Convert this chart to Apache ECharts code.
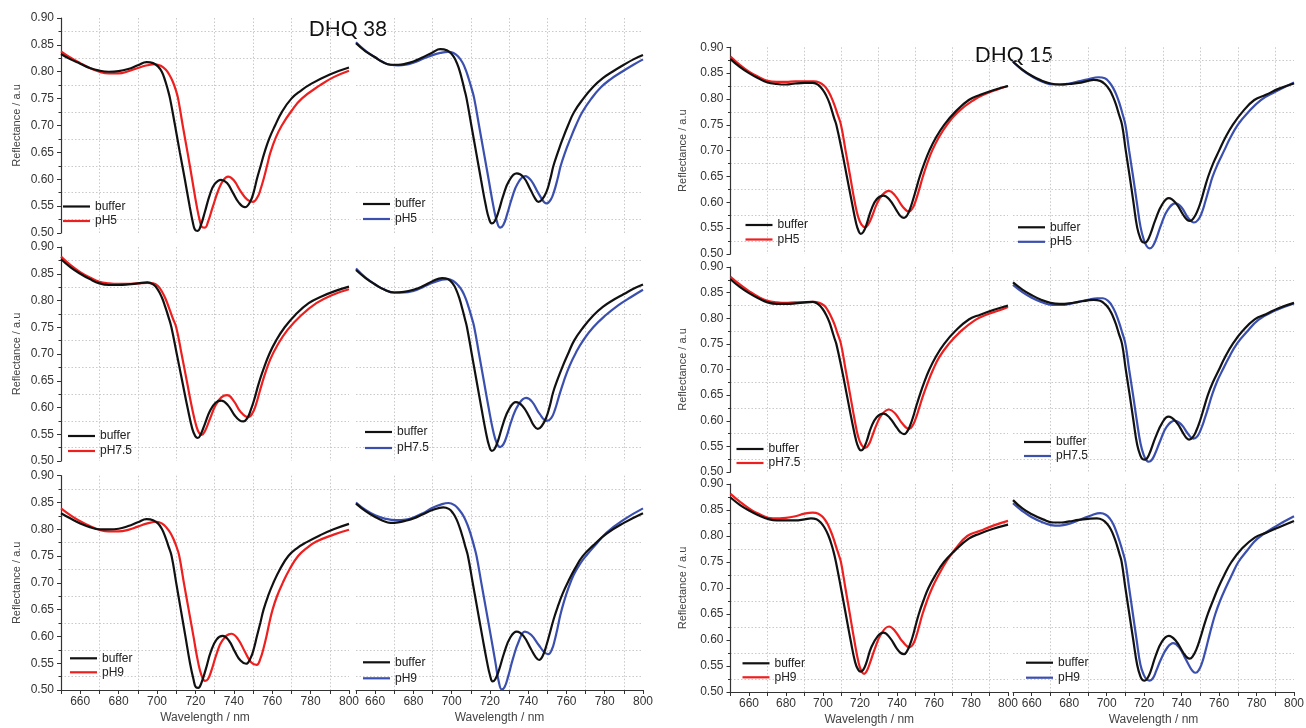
<!DOCTYPE html>
<html><head><meta charset="utf-8">
<script src="https://cdn.jsdelivr.net/npm/echarts@6/dist/echarts.min.js"></script>
<style>html,body{margin:0;padding:0;background:#fff}#c{width:1306px;height:728px}</style>
</head><body><div id="c"></div>
<script>
// ---------------- DATA: [wavelength nm, reflectance a.u] ----------------
// DHQ 38
const d38_pH5_L_buffer = [[650,.833],[655,.823],[660,.815],[665,.807],[670,.802],[675,.800],[680,.801],[685,.805],[690,.812],[694.6,.818],[698,.816],[700.5,.810],[702.5,.800],[704.2,.784],[705.6,.767],[706.8,.750],[709.4,.700],[711.9,.650],[714.5,.600],[717,.550],[718.6,.521],[719.8,.506],[721.2,.504],[722.8,.514],[725,.540],[727.5,.571],[730,.591],[733.4,.599],[736.5,.593],[739.5,.575],[742.5,.557],[745.8,.548],[748.5,.558],[750.5,.578],[752,.600],[754,.625],[756,.650],[758.5,.676],[761.5,.700],[765,.725],[770,.750],[775,.765],[780,.777],[790,.795],[800,.808]];
const d38_pH5_L_pH = [[650,.838],[655,.826],[660,.816],[665,.807],[670,.800],[675,.797],[680,.797],[685,.801],[690,.807],[695,.812],[699,.814],[702,.811],[704.5,.804],[706.5,.794],[708.3,.781],[709.8,.766],[711,.750],[713.4,.700],[715.9,.650],[718.3,.600],[720.7,.550],[722.3,.523],[723.5,.511],[725,.510],[726.5,.520],[729,.548],[732,.580],[734.5,.598],[737,.605],[740,.598],[743.5,.578],[747,.562],[750,.558],[752.5,.568],[754,.582],[755.5,.600],[757.3,.625],[759,.649],[761.8,.677],[765,.700],[770,.727],[775.4,.750],[785,.775],[792,.790],[800,.802]];
const d38_pH5_R_buffer = [[650,.853],[655,.838],[660,.827],[664,.818],[668,.813],[672,.813],[676,.815],[680,.819],[685,.827],[690,.836],[694,.842],[697.5,.840],[700,.833],[702,.822],[703.8,.806],[705.3,.787],[706.6,.768],[707.8,.750],[710.3,.700],[712.8,.650],[715.3,.600],[717.8,.552],[719.5,.527],[721,.518],[722.5,.522],[724.5,.540],[727,.570],[730,.597],[734,.611],[737.5,.604],[741,.582],[743.5,.565],[745.3,.558],[747.2,.562],[749.6,.577],[751.5,.600],[753.2,.625],[755.5,.650],[758,.675],[760.8,.700],[764,.725],[768.8,.750],[774,.772],[779,.788],[784,.800],[790,.813],[795,.823],[800,.831]];
const d38_pH5_R_pH = [[650,.855],[655,.839],[660,.827],[664,.818],[668,.813],[672,.812],[676,.813],[680,.817],[685,.824],[690,.831],[694,.835],[698,.837],[701,.835],[703.5,.828],[705.5,.818],[707.3,.804],[708.9,.787],[710.4,.769],[711.8,.750],[714.3,.700],[716.8,.650],[719.3,.600],[721.8,.550],[723.6,.522],[725.3,.510],[727,.515],[729,.535],[731.5,.565],[734.5,.592],[738.4,.606],[741.5,.598],[745.5,.573],[749.7,.555],[751.8,.562],[753.5,.577],[755.3,.600],[757,.625],[759.3,.650],[762,.675],[764.9,.700],[768.3,.725],[773,.750],[778,.771],[783,.786],[789,.800],[795,.813],[800,.823]];
const d38_pH75_L_buffer = [[650,.877],[655,.862],[660,.850],[665,.840],[670,.832],[675,.829],[680,.829],[685,.830],[690,.832],[695,.834],[698,.830],[700.5,.820],[702.5,.806],[704.3,.788],[706,.769],[707.5,.750],[710.3,.700],[713.1,.650],[715.9,.600],[718.4,.560],[720,.546],[721.3,.543],[722.8,.550],[725,.570],[727.5,.593],[730.5,.609],[733.5,.613],[737,.604],[740.5,.585],[743,.576],[745,.574],[747,.580],[748.8,.595],[750.5,.613],[753,.645],[755.5,.672],[758.5,.700],[762,.725],[766.5,.750],[772,.773],[779,.795],[786,.808],[793,.818],[800,.826]];
const d38_pH75_L_pH = [[650,.882],[655,.866],[660,.853],[665,.843],[670,.835],[675,.832],[680,.831],[685,.831],[690,.832],[695,.833],[698,.832],[700.5,.827],[702.7,.816],[704.7,.801],[706.4,.785],[708.3,.766],[710,.750],[712.8,.700],[715.5,.650],[718.2,.600],[720.5,.565],[722,.552],[723.3,.549],[725,.556],[727.5,.578],[730.5,.604],[733.5,.619],[736.5,.623],[740,.612],[743.5,.592],[747.5,.582],[749.5,.588],[751.5,.605],[753.5,.630],[756,.660],[759,.690],[762.5,.715],[768,.745],[775,.772],[783,.795],[791,.810],[800,.821]];
const d38_pH75_R_buffer = [[650,.857],[655,.842],[660,.830],[665,.820],[670,.815],[675,.816],[680,.820],[685,.827],[690,.836],[695,.842],[698,.840],[700.5,.832],[702.5,.819],[704.2,.802],[705.6,.784],[706.9,.766],[708,.750],[710.5,.700],[713,.650],[715.5,.600],[718,.552],[719.6,.528],[721,.519],[722.5,.523],[724.5,.541],[727,.571],[730,.597],[733.6,.610],[737,.603],[740.5,.583],[743,.566],[745,.560],[747,.565],[749.3,.580],[751.3,.603],[753,.628],[755.3,.652],[758,.677],[760.8,.700],[764,.725],[768.8,.750],[774,.772],[779,.788],[784,.800],[790,.812],[795,.822],[800,.830]];
const d38_pH75_R_pH = [[650,.860],[655,.843],[660,.830],[665,.820],[670,.815],[675,.815],[680,.818],[685,.825],[690,.833],[695,.839],[698,.840],[701,.836],[703.5,.828],[705.5,.818],[707.3,.804],[708.9,.787],[710.4,.769],[711.8,.750],[714.3,.700],[716.8,.650],[719.3,.600],[721.7,.556],[723.6,.533],[725.3,.526],[727,.531],[729,.549],[731.5,.578],[735,.606],[738.9,.618],[742,.611],[746,.588],[749.8,.575],[752,.580],[754,.596],[756,.620],[758.5,.648],[761.5,.677],[765,.703],[769,.727],[774,.750],[780,.771],[787,.791],[794,.807],[800,.820]];
const d38_pH9_L_buffer = [[650,.830],[655,.820],[660,.811],[665,.804],[670,.800],[675,.800],[680,.801],[685,.806],[690,.813],[694.6,.819],[698,.817],[700.5,.811],[702.5,.801],[704.4,.785],[706,.768],[707.6,.750],[710,.700],[712.4,.650],[714.8,.600],[717.2,.550],[719,.520],[720.3,.505],[721.5,.504],[723,.512],[725.5,.540],[728,.571],[731,.594],[734.2,.601],[737.5,.592],[740.5,.572],[743.5,.555],[746.4,.549],[748.8,.560],[750.5,.578],[752,.600],[753.8,.625],[755.5,.650],[757.8,.675],[760.6,.700],[764,.725],[768.4,.750],[773,.765],[778,.776],[785,.789],[792,.800],[800,.810]];
const d38_pH9_L_pH = [[650,.839],[655,.826],[660,.815],[665,.806],[670,.799],[675,.796],[680,.796],[685,.799],[690,.805],[695,.811],[699.8,.814],[702.5,.811],[705,.803],[707,.793],[708.8,.780],[710.3,.766],[711.6,.750],[714,.700],[716.5,.650],[719,.600],[721.4,.552],[723.3,.526],[725,.517],[726.5,.520],[728.5,.538],[731,.567],[734,.592],[738.7,.605],[742,.596],[746,.570],[749,.552],[751.9,.547],[754,.560],[755.5,.578],[757,.600],[758.5,.625],[760.2,.650],[762.5,.675],[765.5,.700],[769,.725],[773.5,.750],[778,.765],[783,.777],[792,.790],[800,.799]];
const d38_pH9_R_buffer = [[650,.848],[655,.834],[660,.823],[664,.816],[668,.812],[672,.813],[676,.816],[680,.820],[685,.828],[690,.836],[695.6,.841],[698.5,.838],[700.7,.830],[702.6,.818],[704.3,.802],[705.8,.785],[707.2,.767],[708.5,.750],[711,.700],[713.5,.650],[716,.600],[718.5,.552],[720,.528],[721.4,.516],[722.8,.520],[724.8,.538],[727.5,.570],[730.5,.597],[734,.609],[737.5,.601],[741.5,.576],[744,.561],[745.7,.556],[747.5,.563],[749.5,.583],[751.3,.606],[753.3,.632],[755.5,.656],[758,.680],[761,.703],[764.5,.727],[768.5,.750],[774,.770],[781,.792],[790,.812],[800,.830]];
const d38_pH9_R_pH = [[650,.850],[655,.836],[660,.826],[665,.820],[671,.817],[676,.818],[680,.822],[685,.830],[690,.840],[695,.847],[698.3,.849],[701.5,.845],[704,.836],[706.3,.824],[708.3,.808],[710,.790],[711.6,.770],[713,.750],[715.5,.700],[718,.650],[720.5,.600],[722.8,.553],[724.6,.516],[726.2,.501],[727.6,.505],[729.5,.525],[732,.558],[735,.590],[738.3,.609],[741.5,.603],[745.5,.584],[748.3,.571],[750.5,.567],[752.3,.575],[753.8,.592],[755.3,.615],[756.8,.640],[758.7,.665],[761,.690],[763.8,.715],[767,.735],[770.6,.752],[775,.770],[781,.794],[790,.818],[800,.839]];
// DHQ 15
const d15_pH5_L_buffer = [[650,.877],[655,.862],[660,.850],[665,.840],[670,.832],[675,.829],[680,.828],[685,.830],[690,.831],[694.5,.831],[697.5,.827],[699.8,.818],[701.8,.806],[703.5,.792],[705,.775],[706.1,.762],[707.2,.750],[710.2,.700],[712.9,.650],[715.6,.600],[718,.558],[719.3,.544],[720.4,.539],[721.7,.542],[723.5,.557],[726,.585],[729,.606],[732.7,.613],[736,.605],[740,.583],[742,.573],[743.8,.570],[745.5,.575],[747,.587],[748.5,.603],[750.3,.625],[752.3,.650],[754.7,.675],[757.5,.700],[761,.725],[765.5,.750],[771.5,.775],[778.8,.798],[785,.808],[792,.817],[800,.825]];
const d15_pH5_L_pH = [[650,.882],[655,.866],[660,.853],[665,.843],[670,.835],[675,.833],[680,.833],[685,.834],[690,.834],[695,.834],[698,.832],[700.5,.826],[702.5,.817],[704.4,.804],[706.1,.789],[707.7,.772],[709.7,.750],[712.2,.700],[714.7,.650],[717.2,.600],[719,.572],[720.8,.557],[722.8,.552],[724.6,.558],[726.5,.573],[729,.596],[732,.614],[735.7,.622],[739,.613],[743,.592],[746.5,.582],[748.3,.588],[750,.602],[752,.625],[754,.650],[756.3,.675],[759,.700],[762.5,.725],[767,.750],[773,.775],[781.5,.798],[788,.810],[794,.818],[800,.825]];
const d15_pH5_R_buffer = [[650,.872],[655,.857],[660,.845],[665,.836],[670,.830],[675,.828],[680,.829],[685,.831],[690,.835],[693,.837],[696.5,.835],[699.3,.828],[701.5,.818],[703.3,.805],[704.9,.790],[706.4,.772],[708.2,.750],[710.2,.700],[712.3,.650],[714.3,.600],[716.3,.551],[718,.530],[719.2,.523],[720.4,.522],[721.8,.526],[723.5,.540],[726,.566],[729.5,.595],[733.2,.608],[737,.598],[741,.575],[743,.566],[744.5,.564],[746.3,.569],[748.3,.582],[750.3,.602],[752.2,.626],[754.2,.650],[756.8,.675],[760,.700],[763.3,.725],[767.3,.750],[772.5,.775],[778.8,.798],[785,.808],[792,.820],[800,.830]];
const d15_pH5_R_pH = [[650,.872],[655,.856],[660,.844],[666,.833],[672,.828],[676,.828],[680,.830],[685,.834],[690,.838],[695.7,.842],[699,.840],[701.5,.832],[703.5,.821],[705.2,.808],[706.8,.792],[708.4,.772],[710,.750],[712,.700],[714.1,.650],[716.1,.600],[718.1,.552],[719.8,.528],[721.4,.515],[723,.511],[724.6,.515],[726.5,.530],[729,.556],[732.5,.585],[736.8,.598],[740,.590],[743.5,.570],[746.6,.561],[748.8,.566],[750.8,.580],[752.7,.602],[754.6,.626],[756.6,.650],[759.4,.675],[762.7,.700],[766,.725],[770,.750],[775,.772],[782.3,.798],[790,.814],[800,.832]];
const d15_pH75_L_buffer = [[650,.876],[655,.861],[660,.849],[665,.839],[670,.831],[675,.828],[680,.828],[685,.829],[690,.831],[694.5,.832],[697.5,.827],[699.8,.818],[701.8,.806],[703.5,.792],[705,.775],[706.1,.762],[707.2,.750],[710.2,.700],[712.9,.650],[715.6,.600],[718,.560],[719.3,.547],[720.5,.542],[721.8,.545],[723.6,.560],[726,.587],[729,.607],[732.7,.614],[736,.606],[740,.586],[742,.577],[743.8,.574],[745.5,.579],[747,.590],[748.5,.605],[750.3,.627],[752.3,.650],[754.7,.675],[757.5,.700],[761,.725],[765.5,.750],[771.5,.775],[779,.798],[785,.807],[792,.816],[800,.825]];
const d15_pH75_L_pH = [[650,.881],[655,.866],[660,.853],[665,.842],[670,.834],[675,.831],[680,.830],[685,.831],[690,.831],[695,.832],[698,.830],[700.5,.825],[702.5,.816],[704.4,.803],[706.1,.789],[707.7,.772],[709.7,.750],[712.2,.700],[714.7,.650],[717.2,.600],[719,.569],[720.8,.553],[722.8,.547],[724.6,.553],[726.5,.569],[729,.593],[732,.613],[735.7,.622],[739,.614],[743,.594],[746.5,.584],[748.3,.590],[750,.603],[752,.625],[754,.648],[756.5,.673],[759.3,.698],[763,.725],[768,.750],[774,.773],[782,.796],[789,.808],[795,.815],[800,.822]];
const d15_pH75_R_buffer = [[650,.870],[655,.856],[660,.845],[665,.836],[670,.830],[675,.828],[680,.829],[685,.832],[690,.835],[693,.836],[696.5,.834],[699.3,.827],[701.5,.817],[703.3,.804],[704.9,.789],[706.4,.771],[708.2,.750],[710.2,.700],[712.3,.650],[714.3,.600],[716.3,.553],[718,.532],[719.2,.525],[720.4,.524],[721.8,.528],[723.5,.542],[726,.567],[729.5,.595],[733,.608],[737,.598],[741,.575],[742.7,.566],[744,.563],[746,.568],[748,.582],[750,.602],[752,.626],[754,.650],[756.7,.675],[760,.700],[763.3,.725],[767.3,.750],[772.5,.775],[779,.798],[785,.808],[792,.820],[800,.830]];
const d15_pH75_R_pH = [[650,.865],[655,.851],[660,.840],[665,.832],[671,.826],[676,.826],[680,.828],[685,.832],[690,.836],[695,.839],[698,.839],[701,.833],[703.2,.822],[705,.808],[706.7,.791],[708.3,.772],[710,.750],[712,.700],[714.1,.650],[716.1,.600],[718.1,.555],[719.8,.533],[721.2,.523],[722.5,.520],[724,.523],[726,.537],[728.5,.560],[732,.588],[736.5,.600],[740,.592],[743.5,.574],[746.3,.565],[748.5,.570],[750.5,.585],[752.5,.606],[754.4,.628],[756.4,.652],[759,.677],[762,.700],[765.5,.725],[769.5,.750],[774.5,.772],[781,.797],[790,.815],[800,.829]];
const d15_pH9_L_buffer = [[650,.874],[655,.860],[660,.849],[665,.840],[671,.832],[675,.830],[680,.830],[685,.830],[690,.832],[693.5,.834],[696.5,.832],[699,.825],[701,.815],[702.8,.802],[704.3,.787],[705.7,.770],[707,.750],[709.7,.700],[712.3,.650],[714.9,.600],[717.4,.557],[719,.543],[720.4,.539],[721.8,.543],[723.5,.557],[726,.585],[729.5,.607],[732.7,.614],[736,.605],[740,.583],[742,.575],[743.8,.573],[745.5,.579],[747,.591],[748.5,.607],[750,.627],[751.8,.650],[754.2,.675],[757,.700],[760.8,.725],[765.4,.750],[771,.771],[778.8,.795],[785,.805],[792,.814],[800,.822]];
const d15_pH9_L_pH = [[650,.881],[655,.866],[660,.853],[665,.843],[672.8,.834],[680,.835],[685,.838],[690,.843],[694.4,.845],[697.5,.843],[700,.836],[702.2,.825],[704,.811],[705.7,.795],[707.2,.778],[708.5,.764],[709.7,.750],[712.1,.700],[714.5,.650],[716.9,.600],[719.2,.557],[720.8,.540],[722.2,.535],[723.6,.540],[725.5,.557],[728,.583],[731.5,.612],[735.7,.626],[739,.617],[743,.597],[746.9,.586],[748.7,.592],[750.3,.606],[752,.627],[753.8,.650],[756.2,.675],[759,.700],[762.5,.725],[766.5,.750],[771.5,.775],[778,.800],[785,.810],[792,.820],[800,.829]];
const d15_pH9_R_buffer = [[650,.869],[655,.853],[660,.842],[666,.832],[671.6,.826],[676,.826],[680,.828],[685,.831],[690,.833],[694.8,.834],[697.8,.831],[700.3,.823],[702.3,.812],[704,.798],[705.5,.782],[706.8,.766],[708,.750],[710,.700],[712.1,.650],[714.2,.600],[716.3,.552],[718,.530],[719.2,.523],[720.3,.522],[721.7,.526],[723.5,.540],[726,.568],[729.5,.597],[733.2,.608],[737,.598],[741,.575],[743,.566],[744.3,.564],[746,.569],[748,.583],[750,.604],[752,.628],[754.2,.652],[756.8,.676],[759.5,.700],[762.8,.725],[766.6,.750],[772,.775],[779,.797],[785,.806],[792,.817],[800,.829]];
const d15_pH9_R_pH = [[650,.863],[655,.848],[660,.836],[666,.826],[672.5,.820],[677,.821],[682,.826],[687,.833],[692,.840],[696.6,.844],[699.5,.841],[701.8,.833],[703.6,.822],[705.2,.808],[706.8,.791],[708.4,.772],[710,.750],[712,.700],[714,.650],[716,.600],[718,.553],[719.8,.533],[721.4,.524],[723,.522],[724.6,.526],[726.5,.541],[729,.563],[732.5,.586],[735.5,.594],[739,.584],[741.5,.568],[744,.551],[746,.540],[747.5,.537],[749,.541],[750.8,.555],[752.5,.576],[754.2,.600],[756,.625],[758,.650],[760.5,.675],[763.5,.700],[766.8,.725],[770.3,.750],[775,.772],[780.5,.795],[790,.818],[800,.838]];

const groupTitles = ['DHQ 38', 'DHQ 15'];
const phLabels = ['pH5', 'pH7.5', 'pH9'];
const bufferLabel = 'buffer';
const yAxisName = 'Reflectance / a.u';
const xAxisName = 'Wavelength / nm';
const wlMin = 650, wlMax = 800, wlTickStep = 10, wlLabelStep = 20, wlGridStep = 20;
const rMin = 0.5, rMax = 0.9, rStep = 0.05;

// panels: [group][row][col] -> [buffer, sample]
const panelData = [
  [[[d38_pH5_L_buffer, d38_pH5_L_pH], [d38_pH5_R_buffer, d38_pH5_R_pH]],
   [[d38_pH75_L_buffer, d38_pH75_L_pH], [d38_pH75_R_buffer, d38_pH75_R_pH]],
   [[d38_pH9_L_buffer, d38_pH9_L_pH], [d38_pH9_R_buffer, d38_pH9_R_pH]]],
  [[[d15_pH5_L_buffer, d15_pH5_L_pH], [d15_pH5_R_buffer, d15_pH5_R_pH]],
   [[d15_pH75_L_buffer, d15_pH75_L_pH], [d15_pH75_R_buffer, d15_pH75_R_pH]],
   [[d15_pH9_L_buffer, d15_pH9_L_pH], [d15_pH9_R_buffer, d15_pH9_R_pH]]]
];

// ---------------- LAYOUT / STYLE ----------------
const FONT = "'Liberation Sans', Arial, sans-serif";
const COLORS = { buffer: '#111111', left: '#ee1f1f', right: '#3a4fae' };
const layout = [
  { cols: [{ left: 61, width: 288 }, { left: 356, width: 287 }],
    rows: [{ top: 18, height: 215 }, { top: 247, height: 214 }, { top: 475.7, height: 214.3 }],
    yNameGap: 39, title: { x: 348, y: 29 } },
  { cols: [{ left: 730.5, width: 277.5 }, { left: 1013, width: 281 }],
    rows: [{ top: 47.3, height: 206.7 }, { top: 267, height: 205 }, { top: 484, height: 208 }],
    yNameGap: 42, title: { x: 1014, y: 55 } }
];
// legend: [offset x from grid left, first item centre above grid bottom, item spacing]
const legendPos = [
  [[[2, 26.5, 14.5], [7, 29, 15]], [[7, 25, 15], [9, 29, 16]], [[9, 31.7, 14], [7, 27.7, 16]]],
  [[[15, 29, 14.5], [5, 26.7, 14.5]], [[6, 23, 14], [11, 30, 14]], [[12, 28.7, 14], [13, 29.3, 15]]]
];

const grids = [], xAxes = [], yAxes = [], series = [], legends = [], graphics = [];
const gridLineStyle = { color: '#c9c9c9', width: 1, type: [1.5, 2] };
const TEXT_H = 14;
let gi = 0;
for (let g = 0; g < 2; g++) {
  const L = layout[g];
  graphics.push({ type: 'text', x: L.title.x, y: L.title.y, style: { text: groupTitles[g], fill: '#111',
    font: "21px Lato, 'Open Sans', sans-serif", align: 'center', verticalAlign: 'middle' } });
  for (let r = 0; r < 3; r++) {
    for (let c = 0; c < 2; c++) {
      const col = L.cols[c], row = L.rows[r];
      const bottomRow = r === 2, leftCol = c === 0;
      grids.push({ left: col.left, top: row.top, width: col.width, height: row.height, containLabel: false, outerBoundsMode: 'none' });
      xAxes.push({
        type: 'value', gridIndex: gi, min: wlMin, max: wlMax, interval: wlTickStep,
        axisLine: { show: bottomRow, onZero: false, lineStyle: { color: '#333', width: 1.2 } },
        axisTick: { show: bottomRow, length: 4, lineStyle: { color: '#333' } },
        axisLabel: { show: bottomRow, fontFamily: FONT, fontSize: 12, color: '#333', margin: 6,
          formatter: v => (v % wlLabelStep === 0 ? String(v) : '') },
        splitLine: { show: false },
        name: bottomRow ? xAxisName : '', nameLocation: 'middle', nameGap: 22,
        nameTextStyle: { fontFamily: FONT, fontSize: 12, color: '#444' }
      });
      xAxes.push({
        type: 'value', gridIndex: gi, min: wlMin, max: wlMax, interval: wlGridStep, position: 'bottom',
        axisLine: { show: false }, axisTick: { show: false }, axisLabel: { show: false },
        splitLine: { show: true, showMinLine: false, showMaxLine: false, lineStyle: gridLineStyle }
      });
      yAxes.push({
        type: 'value', gridIndex: gi, min: rMin, max: rMax, interval: rStep,
        axisLine: { show: leftCol, lineStyle: { color: '#333', width: 1.2 } },
        axisTick: { show: leftCol, length: 4, lineStyle: { color: '#333' } },
        minorTick: { show: leftCol, splitNumber: 2, length: 2.5, lineStyle: { color: '#333' } },
        axisLabel: { show: leftCol, fontFamily: FONT, fontSize: 12, color: '#333', margin: 7,
          formatter: v => v.toFixed(2) },
        splitLine: { show: false },
        minorSplitLine: { show: true, lineStyle: gridLineStyle },
        name: leftCol ? yAxisName : '', nameLocation: 'middle', nameGap: L.yNameGap,
        nameTextStyle: { fontFamily: FONT, fontSize: 11, color: '#444' }
      });
      const [buf, smp] = panelData[g][r][c];
      const nameB = bufferLabel + '#' + gi, nameS = phLabels[r] + '#' + gi;
      const sc = leftCol ? COLORS.left : COLORS.right;
      const common = { type: 'line', xAxisIndex: 2 * gi, yAxisIndex: gi, symbol: 'none', showSymbol: false,
        smooth: 0.45, silent: true, animation: false };
      series.push(Object.assign({}, common, { name: nameS, data: smp, z: 2,
        lineStyle: { color: sc, width: 2.2 }, itemStyle: { color: sc } }));
      series.push(Object.assign({}, common, { name: nameB, data: buf, z: 3,
        lineStyle: { color: COLORS.buffer, width: 2.2 }, itemStyle: { color: COLORS.buffer } }));
      const lp = legendPos[g][r][c];
      legends.push({
        left: col.left + lp[0], top: row.top + row.height - lp[1] - TEXT_H / 2,
        orient: 'vertical', icon: 'rect', itemWidth: 27, itemHeight: 2.2, itemGap: lp[2] - TEXT_H, padding: 0,
        selectedMode: false,
        data: [{ name: nameB, itemStyle: { color: COLORS.buffer } }, { name: nameS, itemStyle: { color: sc } }],
        formatter: n => n.split('#')[0],
        textStyle: { fontFamily: FONT, fontSize: 12, color: '#222', lineHeight: TEXT_H }
      });
      gi++;
    }
  }
}

const chart = echarts.init(document.getElementById('c'), null, { renderer: 'canvas' });
chart.setOption({
  animation: false, backgroundColor: '#fff',
  grid: grids, xAxis: xAxes, yAxis: yAxes, series: series, legend: legends, graphic: graphics
});
</script></body></html>
